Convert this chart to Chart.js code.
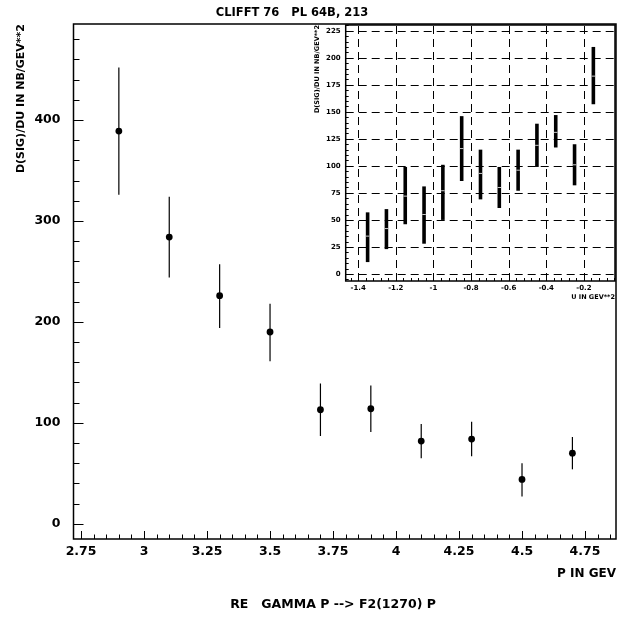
<!DOCTYPE html>
<html><head><meta charset="utf-8">
<script src="https://cdn.jsdelivr.net/npm/chart.js@4/dist/chart.umd.min.js"></script>
<style>
html,body{margin:0;padding:0;background:#fff;}
#wrap{position:relative;width:620px;height:617px;background:#fff;}
#main{position:absolute;left:0;top:0;}
#inset{position:absolute;left:300px;top:0;}
</style></head><body>
<div id="wrap"><canvas id="main" width="620" height="617"></canvas><canvas id="inset" width="320" height="310"></canvas></div>
<script>
// ---- data: main plot ----
const mainP   = [2.9, 3.1, 3.3, 3.5, 3.7, 3.9, 4.1, 4.3, 4.5, 4.7];
const mainSig = [389, 284, 226, 190, 113, 114, 82, 84, 44, 70];
const mainLo  = [326, 244, 194, 161, 87, 91, 65, 67, 27, 54];
const mainHi  = [452, 324, 257, 218, 139, 137, 99, 101, 60, 86];
// ---- data: inset ----
const insetU   = [-1.35, -1.25, -1.15, -1.05, -0.95, -0.85, -0.75, -0.65, -0.55, -0.45, -0.35, -0.25, -0.15];
const insetSig = [35, 42, 72, 55, 77, 116, 93, 80, 96, 119, 131, 101, 183];
const insetLo  = [11, 23, 46, 28, 50, 86, 69, 61, 77, 99, 117, 82, 157];
const insetHi  = [57, 60, 99, 81, 101, 146, 115, 99, 115, 139, 147, 120, 210];
// ---- texts ----
const mainTitle = 'CLIFFT 76   PL 64B, 213';
const caption = 'RE   GAMMA P --> F2(1270) P';
const yTitle = 'D(SIG)/DU IN NB/GEV**2';
const xTitleMain = 'P IN GEV';
const xTitleInset = 'U IN GEV**2';

const FAM = "'DejaVu Sans', sans-serif";
function near(v, step){ const r = v/step; return Math.abs(r - Math.round(r)) < 1e-6; }
function fmt(v){ return String(+v.toFixed(2)); }

function decorPlugin(o){
  return {
    id: 'decor',
    beforeDatasetsDraw(chart){
      const ctx = chart.ctx, a = chart.chartArea, xs = chart.scales.x, ys = chart.scales.y;
      ctx.save();
      if (o.grid){
        ctx.strokeStyle = '#000'; ctx.lineWidth = 1; ctx.setLineDash([8,5]);
        xs.ticks.forEach(t => { if (near(t.value, o.xMajor)) { const px = Math.round(xs.getPixelForValue(t.value))+0.5; ctx.beginPath(); ctx.moveTo(px, a.bottom); ctx.lineTo(px, a.top); ctx.stroke(); }});
        ys.ticks.forEach(t => { if (near(t.value, o.yMajor)) { const py = Math.round(ys.getPixelForValue(t.value))+0.5; ctx.beginPath(); ctx.moveTo(a.left, py); ctx.lineTo(a.right, py); ctx.stroke(); }});
        ctx.setLineDash([]);
      }
      // error bars
      chart.data.datasets.forEach(ds => {
        ctx.strokeStyle = '#000'; ctx.lineWidth = ds.errWidth; ctx.lineCap = 'butt';
        ds.data.forEach((d, i) => {
          const px = xs.getPixelForValue(d.x);
          ctx.beginPath();
          ctx.moveTo(px, ys.getPixelForValue(ds.errLo[i]));
          ctx.lineTo(px, ys.getPixelForValue(ds.errHi[i]));
          ctx.stroke();
        });
      });
      ctx.restore();
    },
    afterDraw(chart){
      const ctx = chart.ctx, a = chart.chartArea, xs = chart.scales.x, ys = chart.scales.y;
      ctx.save();
      ctx.strokeStyle = '#000'; ctx.lineWidth = o.frameW;
      ctx.strokeRect(a.left, a.top, a.right - a.left, a.bottom - a.top);
      ctx.lineWidth = 1;
      xs.ticks.forEach(t => {
        if (!near(t.value, o.xMinor)) return;
        const len = near(t.value, o.xMajor) ? o.xMajLen : o.xMinLen;
        const px = Math.round(xs.getPixelForValue(t.value)) + 0.5;
        ctx.beginPath(); ctx.moveTo(px, a.bottom); ctx.lineTo(px, a.bottom - len); ctx.stroke();
      });
      ys.ticks.forEach(t => {
        if (!near(t.value, o.yMinor)) return;
        const len = near(t.value, o.yMajor) ? o.yMajLen : o.yMinLen;
        const py = Math.round(ys.getPixelForValue(t.value)) + 0.5;
        ctx.beginPath(); ctx.moveTo(a.left, py); ctx.lineTo(a.left + len, py); ctx.stroke();
      });
      if (o.texts) o.texts(ctx);
      ctx.restore();
    }
  };
}

Chart.defaults.color = '#000';

new Chart(document.getElementById('main'), {
  type: 'scatter',
  data: { datasets: [{
    data: mainP.map((p, i) => ({x: p, y: mainSig[i]})),
    errLo: mainLo, errHi: mainHi, errWidth: 1.2,
    pointRadius: 3.4, pointBackgroundColor: '#000', pointBorderWidth: 0
  }]},
  options: {
    responsive: false, animation: false, events: [],
    layout: { padding: { top: 24, right: 3, left: 0, bottom: 0 } },
    plugins: { legend: {display: false}, tooltip: {enabled: false} },
    scales: {
      x: { type: 'linear', min: 2.72, max: 4.873,
        grid: {display: false, drawTicks: false}, border: {display: false},
        ticks: { stepSize: 0.05, includeBounds: false, autoSkip: false, maxRotation: 0, padding: 5, color: '#000',
          font: {family: FAM, size: 12.5, weight: 'bold'},
          callback: v => near(v, 0.25) ? fmt(v) : '' },
        title: { display: true, text: xTitleMain, align: 'end', color: '#000',
          font: {family: FAM, size: 12, weight: 'bold'}, padding: {top: 0, bottom: 36} },
        afterFit: s => { s.height = 78; }
      },
      y: { type: 'linear', min: -15, max: 495,
        grid: {display: false, drawTicks: false}, border: {display: false},
        ticks: { stepSize: 20, includeBounds: false, autoSkip: false, padding: 13, color: '#000',
          font: {family: FAM, size: 12.5, weight: 'bold'},
          callback: v => near(v, 100) ? fmt(v) : '' },
        title: { display: true, text: yTitle, align: 'end', color: '#000',
          font: {family: FAM, size: 11, weight: 'bold'}, padding: {top: 15, bottom: 0} },
        afterFit: s => { s.width = 73.5; }
      }
    }
  },
  plugins: [decorPlugin({ grid: false, frameW: 1.5,
    xMinor: 0.05, xMajor: 0.25, xMajLen: 8, xMinLen: 4.5,
    yMinor: 20, yMajor: 100, yMajLen: 10, yMinLen: 6,
    texts: ctx => {
      ctx.fillStyle = '#000'; ctx.textAlign = 'center'; ctx.textBaseline = 'middle';
      ctx.font = "bold 11.5px " + FAM; ctx.fillText(mainTitle, 292, 13);
      ctx.font = "bold 12.5px " + FAM; ctx.fillText(caption, 333, 605);
    } })]
});

new Chart(document.getElementById('inset'), {
  type: 'scatter',
  data: { datasets: [{
    data: insetU.map((u, i) => ({x: u, y: insetSig[i]})),
    errLo: insetLo, errHi: insetHi, errWidth: 3.6,
    pointStyle: 'line', pointRadius: 1.8, pointBorderColor: '#c8c8c8', pointBorderWidth: 1
  }]},
  options: {
    responsive: false, animation: false, events: [],
    layout: { padding: { top: 25, right: 3, left: 0, bottom: 0 } },
    plugins: { legend: {display: false}, tooltip: {enabled: false} },
    scales: {
      x: { type: 'linear', min: -1.4665, max: -0.035,
        grid: {display: false, drawTicks: false}, border: {display: false},
        ticks: { stepSize: 0.04, includeBounds: false, autoSkip: false, maxRotation: 0, padding: 3, color: '#000',
          font: {family: FAM, size: 7, weight: 'bold'},
          callback: v => near(v, 0.2) ? fmt(v) : '' },
        title: { display: true, text: xTitleInset, align: 'end', color: '#000',
          font: {family: FAM, size: 6.5, weight: 'bold'}, padding: {top: 0, bottom: 9} },
        afterFit: s => { s.height = 29; }
      },
      y: { type: 'linear', min: -6.5, max: 230.3,
        grid: {display: false, drawTicks: false}, border: {display: false},
        ticks: { stepSize: 5, includeBounds: false, autoSkip: false, padding: 5, color: '#000',
          font: {family: FAM, size: 7, weight: 'bold'},
          callback: v => near(v, 25) ? fmt(v) : '' },
        title: { display: true, text: yTitle, align: 'end', color: '#000',
          font: {family: FAM, size: 6.5, weight: 'bold'}, padding: {top: 13, bottom: 0} },
        afterFit: s => { s.width = 45.7; }
      }
    }
  },
  plugins: [decorPlugin({ grid: true, frameW: 1.5, xMajor: 0.2, yMajor: 25,
    xMinor: 0.04, xMajLen: 5, xMinLen: 3,
    yMinor: 5, yMajLen: 5, yMinLen: 3 })]
});
</script>
</body></html>
